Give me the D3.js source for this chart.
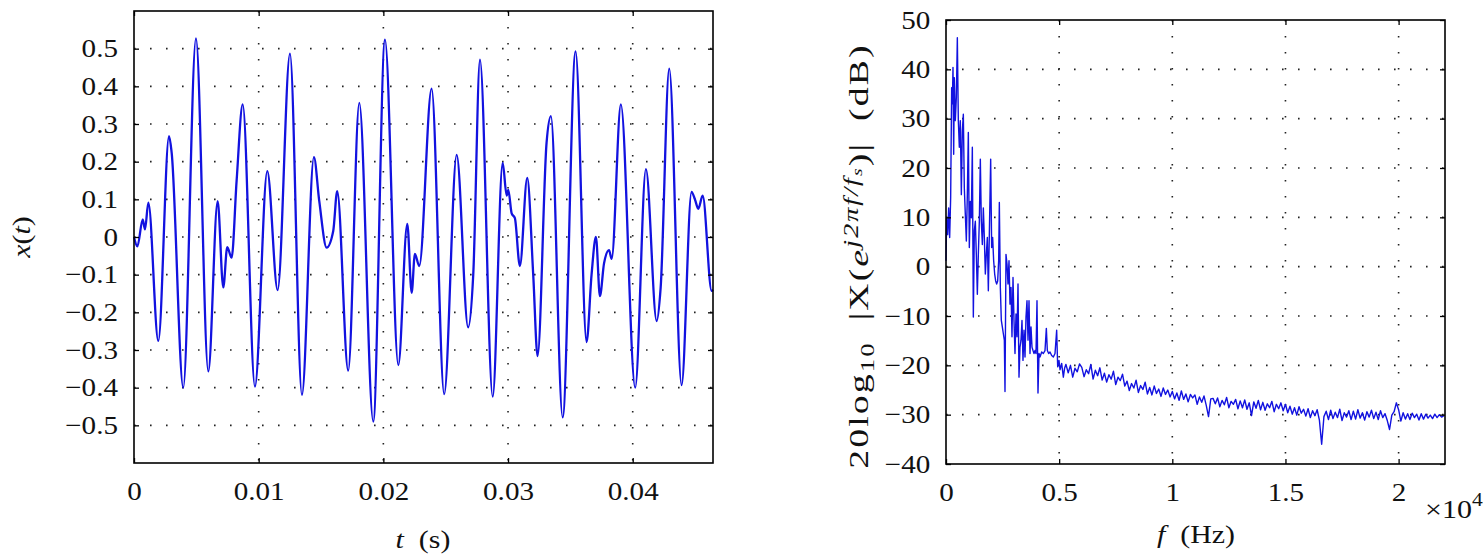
<!DOCTYPE html>
<html lang="en">
<head>
<meta charset="UTF-8">
<title>Signal and spectrum</title>
<script src="https://d3js.org/d3.v7.min.js"></script>
<style>
  body { margin: 0; background: #fff; }
  svg text { font-family: "Liberation Serif", "Times New Roman", serif; fill: #111; }
  .tick text { font-size: 26px; }
</style>
</head>
<body>
<svg width="1483" height="557"></svg>
<script>
// ---- left panel: x(t), extrema ----
var sigT = [0, 0.00027, 0.0007, 0.00088, 0.00115, 0.00195, 0.00281, 0.00302, 0.00395, 0.00497,
  0.00596, 0.00671, 0.00716, 0.00748, 0.00783, 0.00823, 0.00872, 0.0097, 0.01069, 0.01152,
  0.01251, 0.01347, 0.01443, 0.01486, 0.01545, 0.01598, 0.0163, 0.01718, 0.01807, 0.01919,
  0.02013, 0.0212, 0.02192, 0.02227, 0.02253, 0.02288, 0.02387, 0.02488, 0.02588, 0.0268,
  0.02721, 0.02775, 0.02877, 0.02957, 0.02989, 0.03002, 0.03029, 0.03055, 0.03095, 0.03154,
  0.03202, 0.03237, 0.03309, 0.03344, 0.03438, 0.03542, 0.0363, 0.0367, 0.03705, 0.03737,
  0.0377, 0.0381, 0.03831, 0.03905, 0.0402, 0.04106, 0.04192, 0.04224, 0.04293, 0.04392,
  0.04472, 0.04499, 0.04526, 0.04561, 0.04633, 0.04644];
var sigX = [0, -0.025, 0.047, 0.02, 0.091, -0.276, 0.268, 0.224, -0.40, 0.527,
  -0.357, 0.095, -0.134, -0.027, -0.055, 0.149, 0.352, -0.397, 0.175, -0.141,
  0.487, -0.419, 0.212, 0.095, -0.028, 0.016, 0.122, -0.355, 0.356, -0.49,
  0.524, -0.34, 0.035, -0.148, -0.045, -0.077, 0.394, -0.417, 0.218, -0.24,
  -0.1, 0.471, -0.424, 0.197, 0.11, 0.125, 0.063, 0.05, -0.077, 0.157,
  -0.1, -0.316, 0.25, 0.321, -0.479, 0.493, -0.279, -0.1, 0.0, -0.157,
  -0.07, -0.035, -0.058, 0.352, -0.40, 0.18, -0.223, -0.135, 0.447, -0.393,
  0.12, 0.1, 0.075, 0.11, -0.143, -0.14];
var tTicks = [0, 0.01, 0.02, 0.03, 0.04];
var tTickLabels = ["0", "0.01", "0.02", "0.03", "0.04"];
var xTicks = [0.5, 0.4, 0.3, 0.2, 0.1, 0, -0.1, -0.2, -0.3, -0.4, -0.5];
var xTickLabels = ["0.5", "0.4", "0.3", "0.2", "0.1", "0", "\u22120.1", "\u22120.2", "\u22120.3", "\u22120.4", "\u22120.5"];

// ---- right panel: spectrum ----
// low band read point by point (Hz, dB)
var specLowF = [0, 29, 74, 118, 162, 206, 250, 280, 309, 339,
  368, 412, 457, 501, 545, 589, 633, 678, 722, 766,
  810, 854, 899, 943, 987, 1031, 1075, 1119, 1164, 1208,
  1252, 1296, 1340, 1385, 1429, 1473, 1517, 1561, 1606, 1650,
  1694, 1738, 1782, 1827, 1871, 1915, 1974, 2018, 2062, 2106,
  2151, 2195, 2239, 2283, 2327, 2357, 2401, 2445, 2489, 2534,
  2578, 2607, 2651, 2696, 2740, 2784, 2828, 2872, 2916, 2961,
  3005, 3049, 3093, 3137, 3182, 3226, 3270, 3314, 3358, 3402,
  3447, 3491, 3535, 3579, 3624, 3668, 3712, 3756, 3800, 3845,
  3889, 3933, 3977, 4021, 4065, 4110, 4154, 4228, 4301, 4375,
  4434, 4478, 4537, 4596, 4669, 4743, 4817, 4890, 4935, 4993,
  5038, 5111, 5185, 5240];
var specLowDb = [1.2, 9.9, 6.5, 11.9, 5.9, 14.0, 36.3, 33.0, 40.4, 22.8,
  38.3, 29.6, 34.3, 46.4, 29.6, 24.2, 29.6, 14.6, 27.5, 30.9,
  15.9, 10.6, 5.2, 14.6, 27.2, 3.9, 13.2, 9.9, 24.2, -10.2,
  7.3, 9.2, 2.5, -5.6, 2.5, 9.2, 21.8, 9.2, 4.5, 11.9,
  5.9, -1.5, 2.5, 5.9, -4.9, 6.5, 21.8, 3.9, 5.9, 1.2,
  -1.5, -2.9, -3.5, -2.9, 1.2, 13.0, -4.2, -10.9, -12.2, -13.6,
  -14.9, -25.3, 2.5, 0.5, -3.5, 1.2, -7.6, -4.2, -14.2, -2.2,
  -10.9, -17.6, -9.6, -14.2, -3.5, -22.4, -16.3, -14.9, -10.9, -19.0,
  -12.9, -18.3, -10.2, -6.9, -14.9, -6.9, -17.6, -12.2, -16.3, -17.0,
  -17.6, -17.0, -17.6, -6.9, -25.6, -17.6, -18.3, -17.3, -17.6, -17.0,
  -12.5, -17.0, -17.6, -17.3, -18.0, -18.3, -17.6, -12.9, -20.3, -19.0,
  -20.9, -19.6, -22.4, -20.6];
// noise floor read every 100 Hz from 5300 Hz
var floorStartHz = 5300, floorStepHz = 100;
var floorDb = [-19.8, -21.5, -20.0, -22.4, -20.6, -21.3, -19.7,
  -20.4, -22.3, -20.9, -21.7, -19.8, -22.8, -21.0, -22.1, -20.5, -23.0,
  -21.6, -23.4, -21.9, -22.8, -21.2, -23.9, -22.4, -23.1, -21.8, -24.2,
  -23.2, -25.1, -23.7, -24.6, -23.0, -25.5, -24.1, -24.9, -23.4, -25.8,
  -24.5, -26.0, -24.2, -25.7, -24.8, -26.3, -24.6, -25.9, -25.0, -26.4,
  -25.3, -26.8, -25.6, -27.1, -25.2, -26.9, -25.8, -27.4, -25.9, -26.6,
  -26.0, -27.9, -26.4, -27.5, -26.2, -28.1, -30.4, -26.8, -26.7, -27.8,
  -26.6, -28.4, -27.1, -28.0, -26.5, -28.6, -27.3, -27.9, -26.9, -28.8,
  -27.2, -28.6, -27.0, -28.9, -27.6, -30.2, -27.4, -28.7, -27.1, -29.0,
  -27.5, -29.1, -27.8, -28.6, -27.3, -29.4, -27.9, -28.8, -27.6, -29.2,
  -27.9, -29.6, -28.3, -29.9, -28.6, -30.1, -28.4, -29.7, -28.9, -30.3,
  -28.8, -30.6, -29.2, -30.2, -29.0, -31.1, -36.0, -30.4, -29.3, -31.0,
  -29.1, -30.8, -29.5, -30.6, -28.9, -31.2, -29.6, -30.5, -29.2, -31.0,
  -29.3, -30.9, -29.0, -30.7, -29.6, -31.1, -29.4, -30.5, -29.1, -30.8,
  -29.5, -31.0, -29.2, -30.6, -29.8, -31.2, -33.0, -30.1, -29.4, -27.6,
  -29.0, -31.3, -29.6, -30.9, -29.8, -31.0, -29.7, -30.6, -29.9, -31.1,
  -29.8, -30.9, -29.9, -30.7, -30.1, -30.8, -29.9, -30.6, -30.0, -30.5,
  -30.2];
var fTicks = [0, 5000, 10000, 15000, 20000];
var fTickLabels = ["0", "0.5", "1", "1.5", "2"];
var dbTicks = [50, 40, 30, 20, 10, 0, -10, -20, -30, -40];
var dbTickLabels = ["50", "40", "30", "20", "10", "0", "\u221210", "\u221220", "\u221230", "\u221240"];

var svg = d3.select("svg");
var blue = "#1212e0";
var textStretch = 1.12;   // the original serif runs wider than Liberation Serif

function panel(o) {
  var g = svg.append("g");
  var x = d3.scaleLinear().domain(o.xDom).range([o.left, o.right]);
  var y = d3.scaleLinear().domain(o.yDom).range([o.bottom, o.top]);

  // dotted grid
  g.selectAll(".vg").data(o.xGrid).enter().append("line")
    .attr("x1", function(d) { return x(d); }).attr("x2", function(d) { return x(d); })
    .attr("y1", o.top).attr("y2", o.bottom)
    .attr("stroke", "#222").attr("stroke-width", 1.6).attr("stroke-dasharray", "1.6,14.4");
  g.selectAll(".hg").data(o.yGrid).enter().append("line")
    .attr("y1", function(d) { return y(d); }).attr("y2", function(d) { return y(d); })
    .attr("x1", o.left).attr("x2", o.right)
    .attr("stroke", "#222").attr("stroke-width", 1.6).attr("stroke-dasharray", "1.6,14.4");

  // data line
  var line = d3.line()
    .x(function(d) { return x(d[0]); })
    .y(function(d) { return y(d[1]); })
    .curve(o.curve);
  g.append("path").datum(o.data)
    .attr("d", line)
    .attr("fill", "none")
    .attr("stroke", blue)
    .attr("stroke-width", o.lineWidth)
    .attr("stroke-linejoin", "round");

  // axes with inward ticks
  function fmt(labels, ticks) {
    return function(d) { return labels[ticks.indexOf(d)]; };
  }
  var ax = [
    [d3.axisBottom(x).tickValues(o.xTicks).tickFormat(fmt(o.xLabels, o.xTicks)).tickPadding(o.xPad), o.bottom, 0],
    [d3.axisTop(x).tickValues(o.xTicks).tickFormat(""), o.top, 0],
    [d3.axisLeft(y).tickValues(o.yTicks).tickFormat(fmt(o.yLabels, o.yTicks)).tickPadding(o.yPad), 0, o.left],
    [d3.axisRight(y).tickValues(o.yTicks).tickFormat(""), 0, o.right]
  ];
  ax.forEach(function(a) {
    var axg = g.append("g")
      .attr("transform", "translate(" + a[2] + "," + a[1] + ")")
      .call(a[0].tickSizeInner(-5).tickSizeOuter(0));
    axg.select(".domain").remove();
    axg.selectAll(".tick line").attr("stroke", "#000").attr("stroke-width", 1.3);
    axg.selectAll(".tick text").attr("fill", "#111")
      .attr("transform", "scale(" + textStretch + ",1)");
  });

  g.append("rect")
    .attr("x", o.left).attr("y", o.top)
    .attr("width", o.right - o.left).attr("height", o.bottom - o.top)
    .attr("fill", "none").attr("stroke", "#000").attr("stroke-width", 1.6);
  return g;
}

var leftData = sigT.map(function(t, i) { return [t, sigX[i]]; });
panel({
  left: 134, right: 713, top: 11, bottom: 463,
  xDom: [0, 0.04644], yDom: [-0.6, 0.6],
  xTicks: tTicks, xLabels: tTickLabels, yTicks: xTicks, yLabels: xTickLabels,
  xGrid: tTicks.slice(1), yGrid: xTicks,
  xPad: 19, yPad: 14.3,
  data: leftData, curve: d3.curveMonotoneX, lineWidth: 2.3
});

var rightData = specLowF.map(function(f, i) { return [f, specLowDb[i]]; })
  .concat(floorDb.map(function(v, i) { return [floorStartHz + i * floorStepHz, v]; }));
panel({
  left: 946, right: 1445, top: 20, bottom: 464,
  xDom: [0, 22050], yDom: [-40, 50],
  xTicks: fTicks, xLabels: fTickLabels, yTicks: dbTicks, yLabels: dbTickLabels,
  xGrid: fTicks.slice(1), yGrid: dbTicks.slice(1, -1),
  xPad: 19, yPad: 14,
  data: rightData, curve: d3.curveLinear, lineWidth: 1.4
});

// axis titles
function title(tf, size, stretch) {
  return svg.append("text")
    .attr("transform", tf + " scale(" + stretch + ",1)")
    .attr("text-anchor", "middle").attr("font-size", size);
}
var lt = title("translate(30,237) rotate(-90)", 26, 1.15);
lt.append("tspan").attr("font-style", "italic").text("x");
lt.append("tspan").text("(");
lt.append("tspan").attr("font-style", "italic").text("t");
lt.append("tspan").text(")");

var bt = title("translate(423,548)", 26, 1.15);
bt.append("tspan").attr("font-style", "italic").text("t");
bt.append("tspan").text("\u2002(s)");

var bt2 = title("translate(1196,543)", 26, 1.15);
bt2.append("tspan").attr("font-style", "italic").text("f");
bt2.append("tspan").text("\u2002(Hz)");

var rt = title("translate(868,256) rotate(-90)", 27, 1.4)
  .attr("letter-spacing", 1.5);
rt.append("tspan").text("20log");
rt.append("tspan").attr("font-size", 19).attr("dy", 6).text("10");
rt.append("tspan").attr("dy", -6).text("\u2002|X(");
rt.append("tspan").attr("font-style", "italic").text("e");
rt.append("tspan").attr("font-size", 20).attr("dy", -10).attr("font-style", "italic").text("j2\u03c0f/f");
rt.append("tspan").attr("font-size", 14).attr("dy", 4).attr("font-style", "italic").text("s");
rt.append("tspan").attr("dy", 6).text(")|\u2002(dB)");

var ex = svg.append("text")
  .attr("transform", "translate(1425,518) scale(1.2,1)")
  .attr("font-size", 25);
ex.append("tspan").text("\u00d710");
ex.append("tspan").attr("font-size", 18).attr("dy", -12).text("4");
</script>
</body>
</html>
